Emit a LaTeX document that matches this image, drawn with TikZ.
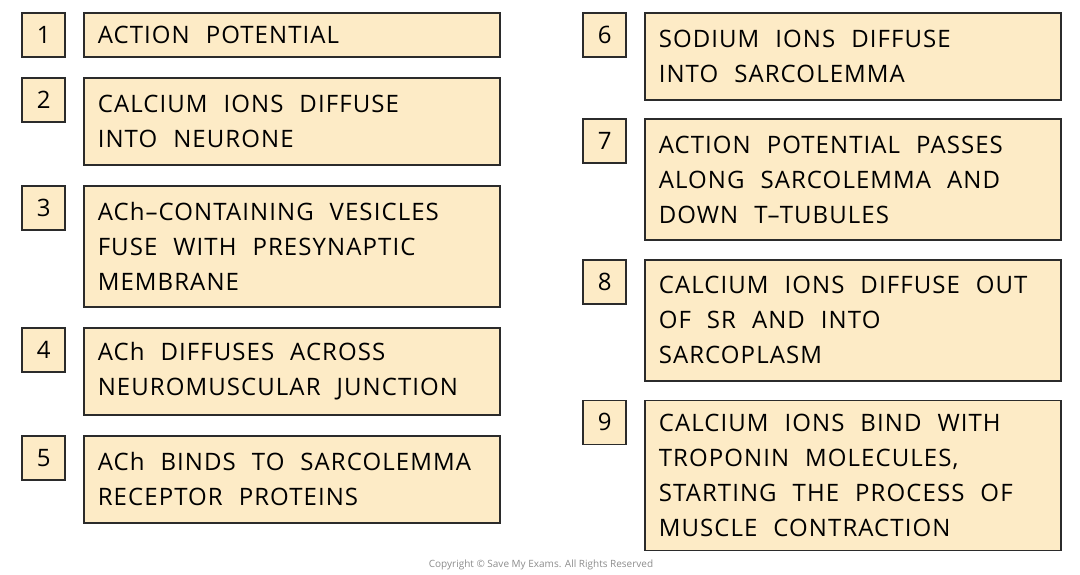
\documentclass[tikz,border=0pt]{standalone}
\usepackage{fontspec}
\setmainfont{Open Sans}[LetterSpace=4.5]
\newfontfamily\copyfont{Open Sans}
\usepackage{tikz}
\usetikzlibrary{positioning}
\definecolor{boxfill}{HTML}{FDEBC6}
\definecolor{boxline}{HTML}{2B2B2B}
\tikzset{stepbox/.style={rectangle,draw=boxline,line width=1.6pt,fill=boxfill,text width=388pt,align=left,inner xsep=14pt,inner ysep=0pt,font=\fontsize{24}{35}\selectfont,execute at begin node={\spaceskip=16pt plus 3pt minus 2pt\relax},anchor=north west},
         numbox/.style={rectangle,draw=boxline,line width=1.6pt,fill=boxfill,minimum width=43pt,minimum height=44pt,inner sep=0pt,font=\fontsize{24}{30}\selectfont},
         oneline/.style={minimum height=44pt},
         twoline/.style={minimum height=87pt},
         threeline/.style={minimum height=121pt},
         fourline/.style={minimum height=150pt}}

\begin{document}
\begin{tikzpicture}[x=1pt,y=-1pt,node distance=19.4pt]
    \useasboundingbox (0,0) rectangle (1080,575);
    % left column
    \node (s1) [stepbox, oneline] at (83,12) {ACTION POTENTIAL};
    \node (s2) [stepbox, twoline, below=of s1.south west, anchor=north west] {CALCIUM IONS DIFFUSE\\INTO NEURONE};
    \node (s3) [stepbox, threeline, below=of s2.south west, anchor=north west] {ACh–CONTAINING VESICLES\\FUSE WITH PRESYNAPTIC\\MEMBRANE};
    \node (s4) [stepbox, twoline, below=of s3.south west, anchor=north west] {ACh DIFFUSES ACROSS\\NEUROMUSCULAR JUNCTION};
    \node (s5) [stepbox, twoline, below=of s4.south west, anchor=north west] {ACh BINDS TO SARCOLEMMA\\RECEPTOR PROTEINS};
    % right column
    \node (s6) [stepbox, twoline] at (644,12) {SODIUM IONS DIFFUSE\\INTO SARCOLEMMA};
    \node (s7) [stepbox, threeline, below=17.9pt of s6.south west, anchor=north west] {ACTION POTENTIAL PASSES\\ALONG SARCOLEMMA AND\\DOWN T–TUBULES};
    \node (s8) [stepbox, threeline, below=17.9pt of s7.south west, anchor=north west] {CALCIUM IONS DIFFUSE OUT\\OF SR AND INTO\\SARCOPLASM};
    \node (s9) [stepbox, fourline, below=17.9pt of s8.south west, anchor=north west] {CALCIUM IONS BIND WITH\\TROPONIN MOLECULES,\\STARTING THE PROCESS OF\\MUSCLE CONTRACTION};
    % numbers
    \foreach \i in {1,...,9} {\node (n\i) [numbox, left=17pt of s\i.north west, anchor=north east] {\i};}
    \node (copy) at (541,565) {\copyfont\fontsize{10}{12}\selectfont\color{black!45}Copyright © Save My Exams. All Rights Reserved};
\end{tikzpicture}
\end{document}
